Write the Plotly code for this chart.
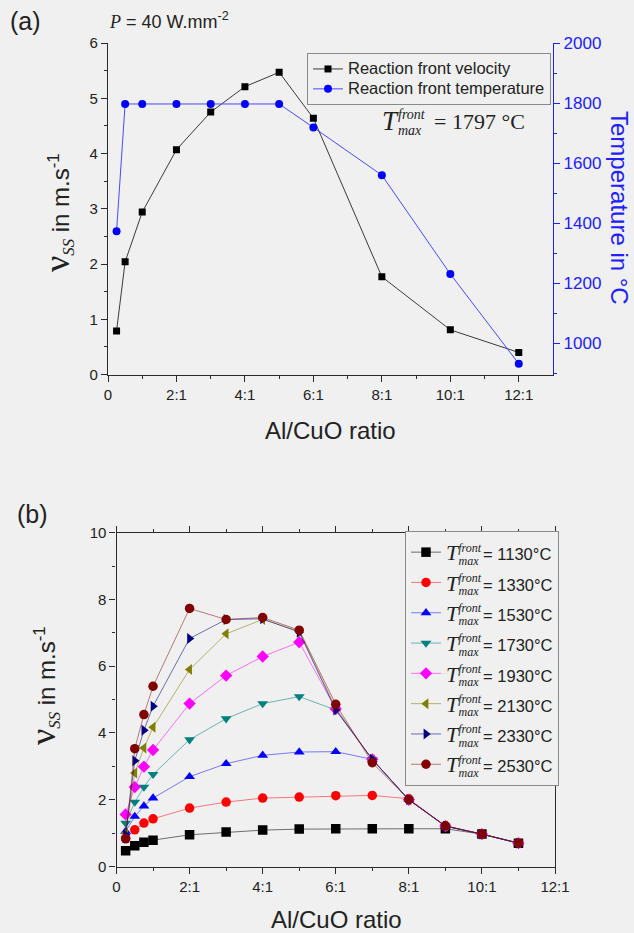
import plotly.graph_objects as go

# ---------------- data: panel (a) ----------------
ratio_a = [0.25, 0.5, 1, 2, 3, 4, 5, 6, 8, 10, 12]
velocity_a = [0.79, 2.04, 2.94, 4.07, 4.75, 5.21, 5.47, 4.64, 1.77, 0.81, 0.40]
temperature_a = [1373, 1797, 1797, 1797, 1797, 1797, 1797, 1719, 1560, 1231, 932]

# ---------------- data: panel (b) ----------------
ratio_b = [0.25, 0.5, 0.75, 1, 2, 3, 4, 5, 6, 7, 8, 9, 10, 11]
tmax_labels = ["1130", "1330", "1530", "1730", "1930", "2130", "2330", "2530"]
v_1130 = [0.47, 0.62, 0.73, 0.79, 0.95, 1.03, 1.09, 1.12, 1.13, 1.13, 1.13, 1.13, 0.97, 0.70]
v_1330 = [0.85, 1.10, 1.30, 1.43, 1.75, 1.93, 2.05, 2.08, 2.12, 2.13, 2.03, 1.21, 0.97, 0.70]
v_1530 = [1.05, 1.50, 1.81, 2.05, 2.69, 3.08, 3.33, 3.43, 3.44, 3.21, 2.00, 1.21, 0.97, 0.70]
v_1730 = [1.30, 1.93, 2.38, 2.76, 3.80, 4.43, 4.88, 5.09, 4.69, 3.21, 2.00, 1.21, 0.97, 0.70]
v_1930 = [1.56, 2.38, 2.99, 3.49, 4.88, 5.72, 6.29, 6.72, 4.72, 3.21, 2.00, 1.21, 0.97, 0.70]
v_2130 = [1.00, 2.80, 3.55, 4.17, 5.90, 6.97, 7.40, 7.05, 4.75, 3.20, 2.00, 1.21, 0.97, 0.70]
v_2330 = [0.95, 3.17, 4.08, 4.80, 6.83, 7.40, 7.42, 7.02, 4.69, 3.21, 2.00, 1.21, 0.97, 0.70]
v_2530 = [0.83, 3.53, 4.55, 5.40, 7.73, 7.40, 7.46, 7.08, 4.86, 3.11, 2.00, 1.22, 0.97, 0.70]
series_b = [v_1130, v_1330, v_1530, v_1730, v_1930, v_2130, v_2330, v_2530]

tick_vals = [0, 2, 4, 6, 8, 10, 12]
tick_text = ["0", "2:1", "4:1", "6:1", "8:1", "10:1", "12:1"]

marker_colors = ["#000000", "#ff0000", "#0000ff", "#008080", "#ff00ff", "#808000", "#000080", "#800000"]
line_colors = ["rgba(0,0,0,0.55)", "rgba(255,0,0,0.5)", "rgba(0,0,255,0.5)", "rgba(0,128,128,0.55)",
               "rgba(255,0,255,0.55)", "rgba(128,128,0,0.55)", "rgba(0,0,128,0.55)", "rgba(128,0,0,0.5)"]
symbols = ["square", "circle", "triangle-up", "triangle-down", "diamond", "triangle-left", "triangle-right", "circle"]

W, H = 634, 933
BG = "#f0f0f0"
AX = "#2a2a2a"
BLUE = "#2020ff"
SERIF = "Liberation Serif"
SANS = "Liberation Sans"


def px(xp):
    return xp / W


def py(yp):
    return 1 - yp / H


fig = go.Figure()

fig.add_trace(go.Scatter(
    x=ratio_a, y=velocity_a, mode="lines+markers",
    name='<span style="font-size:16.5px">Reaction front velocity</span>',
    line=dict(color="#3a3a3a", width=1), marker=dict(symbol="square", size=7, color="#000000"),
    xaxis="x", yaxis="y", legend="legend"))
fig.add_trace(go.Scatter(
    x=ratio_a, y=temperature_a, mode="lines+markers",
    name='<span style="font-size:16.5px">Reaction front temperature</span>',
    line=dict(color="#4848ff", width=1), marker=dict(symbol="circle", size=8, color="#0000ff"),
    xaxis="x", yaxis="y2", legend="legend"))

for lab, vals, mc, lc, sym in zip(tmax_labels, series_b, marker_colors, line_colors, symbols):
    name = (f'<span style="font-family:{SERIF};font-size:22px"><i>T</i></span>'
            f'<sup><span style="font-family:{SERIF};font-size:12px"><i>front</i></span></sup>'
            f'<span style="font-size:12px;letter-spacing:-26px">\u00a0</span>'
            f'<sub><span style="font-family:{SERIF};font-size:12px"><i>max</i></span></sub>'
            f'<span style="font-size:16.5px"> = {lab}°C</span>')
    fig.add_trace(go.Scatter(
        x=ratio_b, y=vals, mode="lines+markers", name=name,
        line=dict(color=lc, width=1), marker=dict(symbol=sym, size=9.5, color=mc),
        xaxis="x2", yaxis="y3", legend="legend2"))

vtitle = (f'<span style="font-family:{SERIF};font-size:36px">ν</span>'
          f'<sub><span style="font-family:{SERIF}"><i>SS</i></span></sub> in m.s<sup>-1</sup>')

common_x = dict(tickmode="array", tickvals=tick_vals, ticktext=tick_text, showline=True,
                linecolor=AX, linewidth=1.3, ticks="outside", ticklen=6, tickwidth=1.2,
                tickcolor=AX, showgrid=False, zeroline=False, automargin=False,
                tickfont=dict(size=15, color="#222", family=SANS),
                minor=dict(tickvals=[1, 3, 5, 7, 9, 11], ticks="outside", ticklen=3, tickcolor=AX))

dom_xa = [px(108), px(553)]
dom_ya = [py(374.6), py(43)]
dom_xb = [px(116.5), px(555)]
dom_yb = [py(866.5), py(532.7)]

fig.update_layout(
    width=W, height=H, paper_bgcolor=BG, plot_bgcolor=BG,
    margin=dict(l=0, r=0, t=0, b=0, autoexpand=False),
    font=dict(family=SANS, size=15, color="#222"),
    xaxis=dict(domain=dom_xa, anchor="y", range=[0, 13], **common_x),
    xaxis3=dict(domain=dom_xa, anchor="y", overlaying="x", side="top", range=[0, 13],
                showline=True, linecolor=AX, linewidth=1.3, ticks="inside", ticklen=5,
                tickcolor=AX, tickmode="array", tickvals=tick_vals, showticklabels=False,
                showgrid=False, zeroline=False, automargin=False,
                minor=dict(tickvals=[1, 3, 5, 7, 9, 11], ticks="inside", ticklen=3, tickcolor=AX)),
    yaxis=dict(domain=dom_ya, anchor="x", range=[0, 6], dtick=1, showline=True,
               linecolor=AX, linewidth=1.3, ticks="outside", ticklen=6, tickcolor=AX,
               showgrid=False, zeroline=False, tickfont=dict(size=15), automargin=False,
               minor=dict(dtick=0.5, ticks="outside", ticklen=3, tickcolor=AX)),
    yaxis2=dict(anchor="x", overlaying="y", side="right", range=[896, 2000],
                tickvals=[1000, 1200, 1400, 1600, 1800, 2000], showline=True,
                linecolor=BLUE, linewidth=1.3, ticks="outside", ticklen=6, tickcolor=BLUE,
                showgrid=False, zeroline=False, tickfont=dict(size=17, color=BLUE),
                automargin=False,
                minor=dict(tickvals=[900, 1100, 1300, 1500, 1700, 1900], ticks="outside",
                           ticklen=3, tickcolor=BLUE)),
    xaxis2=dict(domain=dom_xb, anchor="y3", range=[0, 12], mirror="ticks", **common_x),
    yaxis3=dict(domain=dom_yb, anchor="x2", range=[0, 10], dtick=2, showline=True, mirror=True,
                linecolor=AX, linewidth=1.3, ticks="outside", ticklen=6, tickcolor=AX,
                showgrid=False, zeroline=False, tickfont=dict(size=15), automargin=False,
                minor=dict(dtick=1, ticks="outside", ticklen=3, tickcolor=AX)),
    legend=dict(x=px(307), y=py(53), xanchor="left", yanchor="top", bgcolor=BG,
                bordercolor="#8a8a8a", borderwidth=1, font=dict(size=13, color="#222"),
                itemwidth=30, tracegroupgap=0),
    legend2=dict(x=px(405), y=py(531), xanchor="left", yanchor="top", bgcolor=BG,
                 bordercolor="#8a8a8a", borderwidth=1, font=dict(size=21, color="#222"),
                 itemwidth=30, tracegroupgap=0),
    showlegend=True,
)

ann = [
    dict(text="(a)", x=px(8), y=py(21), font=dict(size=25)),
    dict(text=f'<span style="font-family:{SERIF}"><i>P</i></span> = 40 W.mm<sup>-2</sup>',
         x=px(107), y=py(21), font=dict(size=18)),
    dict(text="<i>T</i>", x=px(380), y=py(121), font=dict(size=27, family=SERIF)),
    dict(text="<i>front</i>", x=px(396), y=py(114), font=dict(size=14, family=SERIF)),
    dict(text="<i>max</i>", x=px(396), y=py(131), font=dict(size=14, family=SERIF)),
    dict(text="= 1797 °C", x=px(432), y=py(122), font=dict(size=22, family=SERIF)),
    dict(text="(b)", x=px(15), y=py(514), font=dict(size=25)),
]
for a in ann:
    fig.add_annotation(xref="paper", yref="paper", xanchor="left", yanchor="middle",
                       showarrow=False, **a)

# axis titles
titles = [
    dict(text="Al/CuO ratio", x=px(330), y=py(430), font=dict(size=24)),
    dict(text="Al/CuO ratio", x=px(336), y=py(919), font=dict(size=24)),
    dict(text=vtitle, x=px(58), y=py(213), font=dict(size=24), textangle=-90),
    dict(text=vtitle, x=px(43), y=py(686), font=dict(size=24), textangle=-90),
    dict(text="Temperature in °C", x=px(620), y=py(208), font=dict(size=24, color=BLUE),
         textangle=90),
]
for a in titles:
    fig.add_annotation(xref="paper", yref="paper", xanchor="center", yanchor="middle",
                       showarrow=False, **a)

fig.write_html("out.html", config={"displayModeBar": False},
               post_script="document.body.style.margin='0';"
                           "document.body.style.background='#f0f0f0';")
